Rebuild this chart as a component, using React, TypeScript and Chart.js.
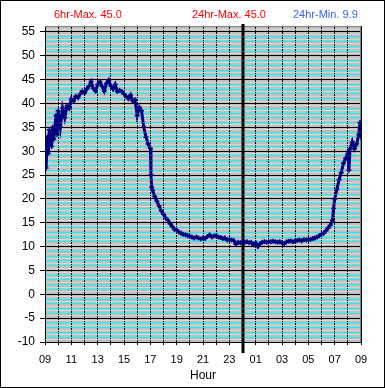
import React, { useEffect, useRef } from "react";
import { Chart, registerables } from "chart.js";

Chart.register(...registerables);

// minutes after 09:00
const minutes = [
  0, 5, 10, 15, 20, 30, 35, 40, 50, 55, 60, 70, 80, 90, 100, 110, 120, 130, 140, 150,
  160, 170, 180, 190, 200, 210, 220, 230, 240, 250, 260, 270, 280, 290, 300, 310, 320, 330, 340, 350,
  360, 370, 380, 390, 400, 410, 420, 430, 440, 450, 460, 470, 480, 483, 486, 490, 500, 510, 520, 530,
  540, 550, 560, 570, 580, 590, 600, 610, 620, 630, 640, 650, 660, 670, 680, 690, 700, 710, 720, 730,
  740, 750, 760, 770, 780, 790, 800, 810, 820, 830, 840, 850, 860, 870, 880, 890, 900, 910, 920, 930,
  940, 950, 960, 970, 980, 990, 1000, 1010, 1020, 1030, 1040, 1050, 1060, 1070, 1080, 1090, 1100, 1110, 1120, 1130,
  1140, 1150, 1160, 1170, 1180, 1190, 1200, 1210, 1220, 1230, 1240, 1250, 1260, 1270, 1280, 1290, 1300, 1310, 1315, 1320,
  1330, 1340, 1350, 1360, 1370, 1380, 1385, 1390, 1400, 1410, 1420, 1430, 1435, 1440,
];

const temps = [
  28, 26.5, 33, 29.5, 34.5, 31, 35, 32.5, 37.5, 33.5, 38.5, 35, 39, 37, 39.5, 39, 41, 40.5, 41.5, 41.2,
  42, 42.6, 42.2, 43, 43.6, 44.6, 43.2, 42.6, 44, 44.6, 43.6, 42.6, 44.2, 44.9, 43.6, 43, 44, 42.5, 42.8, 42.5,
  42, 41.5, 41, 41.8, 40.5, 40.8, 37.5, 39.2, 38.5, 35, 33, 31.5, 30.6, 25, 22.5, 21.8, 20.5, 19.5, 18.5, 17.5,
  16.8, 16, 15.5, 14.8, 14.2, 13.6, 13.5, 13, 12.8, 12.6, 12.5, 12.3, 12.1, 12, 11.8, 12, 11.8, 11.6, 11.8, 11.7,
  12.1, 12.5, 12, 12.2, 12.3, 12, 11.9, 11.7, 11.8, 11.4, 11.5, 11.4, 11.3, 10.5, 10.9, 10.8, 11, 10.9, 11, 10.8,
  10.9, 10.4, 10.8, 10, 10.6, 10.9, 11, 10.9, 11, 11, 11.1, 11, 10.9, 11, 10.8, 10.6, 11, 11.1, 11.2, 11,
  11.2, 11.3, 11.4, 11.2, 11.5, 11.4, 11.5, 11.5, 11.7, 11.8, 12, 12.3, 12.6, 12.8, 13.3, 13.9, 14.5, 15.5, 18, 20,
  22, 24, 25.5, 27.5, 28.5, 29.5, 26, 30.5, 32, 30.5, 31.5, 33.5, 36, 33,
];

const yTickLabels = [-10, -5, 0, 5, 10, 15, 20, 25, 30, 35, 40, 45, 50, 55];
const xTickHours = ["09", "11", "13", "15", "17", "19", "21", "23", "01", "03", "05", "07", "09"];
const headerTexts = ["6hr-Max. 45.0", "24hr-Max. 45.0", "24hr-Min. 9.9"];
const headerColors = ["#ff0000", "#ff0000", "#3366ff"];
const midnightMinute = 900;

const FONT = '"Liberation Sans", Arial, sans-serif';

export default function App() {
  const ref = useRef<HTMLCanvasElement | null>(null);

  useEffect(() => {
    document.body.style.margin = "0";
    const canvas = ref.current;
    if (!canvas) return;

    const frame = {
      id: "frame",
      beforeDraw(chart: any) {
        const ctx = chart.ctx;
        ctx.save();
        ctx.fillStyle = "#ffffff";
        ctx.fillRect(0, 0, chart.width, chart.height);
        const a = chart.chartArea;
        ctx.fillStyle = "#c0c0c0";
        ctx.fillRect(a.left, a.top, a.right - a.left, a.bottom - a.top);
        ctx.restore();
      },
      beforeDatasetsDraw(chart: any) {
        const ctx = chart.ctx;
        const a = chart.chartArea;
        ctx.save();
        ctx.strokeStyle = "#808080";
        ctx.lineWidth = 1;
        ctx.beginPath();
        ctx.moveTo(a.left, a.top + 0.5);
        ctx.lineTo(a.right - 0.5, a.top + 0.5);
        ctx.lineTo(a.right - 0.5, a.bottom);
        ctx.stroke();
        const x = Math.round(chart.scales.x.getPixelForValue(midnightMinute));
        ctx.strokeStyle = "#000000";
        ctx.lineWidth = 3;
        ctx.beginPath();
        ctx.moveTo(x, a.top - 2);
        ctx.lineTo(x, a.bottom + 11);
        ctx.stroke();
        ctx.restore();
      },
      afterDraw(chart: any) {
        const ctx = chart.ctx;
        ctx.save();
        ctx.font = "11px " + FONT;
        ctx.textBaseline = "middle";
        ctx.textAlign = "left";
        const xs = [54, 192, 293];
        headerTexts.forEach((t, i) => {
          ctx.fillStyle = headerColors[i];
          ctx.fillText(t, xs[i], 15);
        });
        ctx.strokeStyle = "#000000";
        ctx.lineWidth = 1;
        ctx.strokeRect(0.5, 0.5, chart.width - 1, chart.height - 1);
        ctx.restore();
      },
    };

    const chart = new Chart(canvas, {
      type: "line",
      data: {
        datasets: [
          {
            data: minutes.map((m, i) => ({ x: m, y: temps[i] })),
            borderColor: "#000080",
            borderWidth: 3,
            pointStyle: "cross",
            pointRadius: 2.5,
            pointBorderWidth: 1.5,
            pointBorderColor: "#000080",
            pointBackgroundColor: "#000080",
            tension: 0,
          },
        ],
      },
      options: {
        animation: false,
        responsive: false,
        events: [],
        layout: { padding: { left: 0, right: 24, top: 26, bottom: 0 } },
        plugins: { legend: { display: false }, tooltip: { enabled: false } },
        scales: {
          x: {
            type: "linear",
            min: 0,
            max: 1440,
            afterFit(scale: any) {
              scale.height = 46;
            },
            ticks: {
              stepSize: 60,
              autoSkip: false,
              maxRotation: 0,
              padding: 8,
              color: "#000000",
              font: { family: FONT, size: 11 },
              callback: (v: any) => {
                const n = Number(v);
                return n % 120 === 0 ? xTickHours[n / 120] : "";
              },
            },
            grid: {
              color: "#000000",
              lineWidth: 1,
              tickLength: 3,
              tickColor: "#000000",
            },
            border: { display: true, color: "#000000" },
            title: {
              display: true,
              text: "Hour",
              color: "#000000",
              font: { family: FONT, size: 12 },
              padding: { top: 0, bottom: 5 },
            },
          },
          y: {
            type: "linear",
            min: -10,
            max: 56.25,
            afterFit(scale: any) {
              scale.width = 45;
            },
            ticks: {
              stepSize: 0.5,
              autoSkip: false,
              padding: 5,
              color: "#000000",
              font: { family: FONT, size: 12 },
              callback: (v: any) => {
                const n = Number(v);
                return yTickLabels.includes(n) ? String(n) : "";
              },
            },
            grid: {
              lineWidth: 1,
              tickLength: 5,
              color: (c: any) => {
                const v = c.tick ? c.tick.value : 0;
                if (yTickLabels.includes(v)) return "#000000";
                if (Number.isInteger(v)) return "#00ffff";
                return "#d4d4d4";
              },
              tickColor: (c: any) => {
                const v = c.tick ? c.tick.value : 0;
                return yTickLabels.includes(v) ? "#000000" : "rgba(0,0,0,0)";
              },
            },
            border: { display: true, color: "#000000" },
          },
        },
      },
      plugins: [frame],
    });

    return () => chart.destroy();
  }, []);

  return (
    <div style={{ width: 385, height: 388 }}>
      <canvas ref={ref} width={385} height={388} style={{ display: "block" }} />
    </div>
  );
}
